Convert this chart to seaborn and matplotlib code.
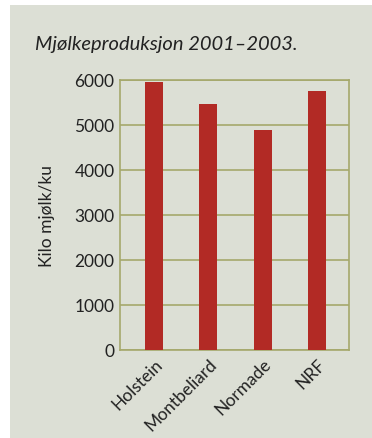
import matplotlib
matplotlib.use("Agg")
import matplotlib.pyplot as plt
import seaborn as sns
import pandas as pd

categories = ["Holstein", "Montbeliard", "Normade", "NRF"]
values = [5950, 5470, 4890, 5760]
yticks = [0, 1000, 2000, 3000, 4000, 5000, 6000]

title = "Mjølkeproduksjon 2001–2003."
ylabel = "Kilo mjølk/ku"

sns.set_theme(style="white")
plt.rcParams['font.family'] = ['Lato', 'DejaVu Sans']

W, H = 372, 439
fig = plt.figure(figsize=(W / 100, H / 100), dpi=100)
fig.patch.set_facecolor("white")
bg = "#dcdfd5"
fig.patches.append(plt.Rectangle((10 / W, 0), 1, 1 - 6 / H, transform=fig.transFigure,
                                 facecolor=bg, edgecolor="none", zorder=-10))

left, right, top, bottom = 120, 349, 81, 351
ax = fig.add_axes([left / W, 1 - bottom / H, (right - left) / W, (bottom - top) / H])
ax.set_facecolor("none")

df = pd.DataFrame({"cat": categories, "val": values})
sns.barplot(data=df, x="cat", y="val", color="#b22a25", width=0.33, saturation=1,
            linewidth=0, edgecolor="none", ax=ax, zorder=3)

grid = "#a5a86c"
ax.set_ylim(0, 6000)
ax.set_xlim(-0.63, 3.59)
ax.set_yticks(yticks)
ax.set_yticklabels([str(v) for v in yticks], fontsize=12.5, color="#222222")
ax.yaxis.grid(True, color=grid, linewidth=1.2, zorder=0)
ax.set_axisbelow(True)
for s in ax.spines.values():
    s.set_visible(True)
    s.set_color(grid)
    s.set_linewidth(1.2)
ax.tick_params(axis="both", length=0, pad=4)
ax.set_xticks(range(len(categories)))
ax.set_xticklabels(categories, rotation=45, ha="right", rotation_mode="anchor",
                   fontsize=12.5, color="#222222")
ax.set_xlabel("")
ax.set_ylabel(ylabel, fontsize=12.5, color="#222222", labelpad=14)

fig.text(35 / W, 1 - 50 / H, title, fontsize=14.5, style="italic", color="#222222",
         ha="left", va="baseline")

fig.savefig("out.png", dpi=100)
